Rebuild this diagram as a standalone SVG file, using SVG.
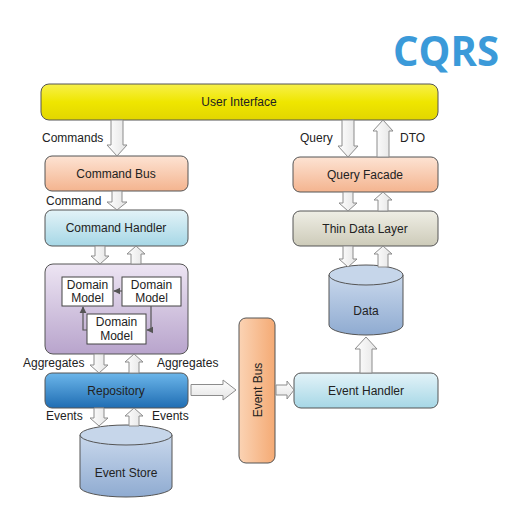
<svg xmlns="http://www.w3.org/2000/svg" width="519" height="514" viewBox="0 0 519 514">
<defs>
<linearGradient id="gYel" x1="0" y1="0" x2="0" y2="1"><stop offset="0" stop-color="#f7f04a"/><stop offset="0.5" stop-color="#efe600"/><stop offset="1" stop-color="#e2d600"/></linearGradient>
<linearGradient id="gPeach" x1="0" y1="0" x2="0" y2="1"><stop offset="0" stop-color="#fde3d3"/><stop offset="1" stop-color="#f4b48f"/></linearGradient>
<linearGradient id="gBus" x1="0" y1="0" x2="1" y2="0"><stop offset="0" stop-color="#fbd3b4"/><stop offset="1" stop-color="#f4aa74"/></linearGradient>
<linearGradient id="gCyan" x1="0" y1="0" x2="0" y2="1"><stop offset="0" stop-color="#e3f3f8"/><stop offset="1" stop-color="#a6d7e6"/></linearGradient>
<linearGradient id="gGray" x1="0" y1="0" x2="0" y2="1"><stop offset="0" stop-color="#efeee5"/><stop offset="1" stop-color="#cdcbb9"/></linearGradient>
<linearGradient id="gLav" x1="0" y1="0" x2="0" y2="1"><stop offset="0" stop-color="#ede5f3"/><stop offset="1" stop-color="#b8a4cc"/></linearGradient>
<linearGradient id="gRepo" x1="0" y1="0" x2="0" y2="1"><stop offset="0" stop-color="#6cb6ea"/><stop offset="1" stop-color="#1f6db3"/></linearGradient>
<linearGradient id="gCyl" x1="0" y1="0" x2="0" y2="1"><stop offset="0" stop-color="#c9d8ec"/><stop offset="1" stop-color="#8fabd1"/></linearGradient>
<linearGradient id="gArr" x1="0" y1="0" x2="1" y2="0"><stop offset="0" stop-color="#ffffff"/><stop offset="1" stop-color="#e4e4e4"/></linearGradient>
<linearGradient id="gArrH" x1="0" y1="0" x2="0" y2="1"><stop offset="0" stop-color="#ffffff"/><stop offset="1" stop-color="#e4e4e4"/></linearGradient>
<marker id="tri" viewBox="0 0 10 10" refX="9" refY="5" markerWidth="6" markerHeight="6" orient="auto"><path d="M0,0 L10,5 L0,10 Z" fill="#555"/></marker>
</defs>
<style>
.box{stroke:#555;stroke-width:1}
.t{font-family:"Liberation Sans",Arial,sans-serif;font-size:12px;fill:#222;text-anchor:middle}
.lbl{font-family:"Liberation Sans",Arial,sans-serif;font-size:12px;fill:#222}
.arr{fill:url(#gArr);stroke:#8c8c8c;stroke-width:1}
.arrh{fill:url(#gArrH);stroke:#8c8c8c;stroke-width:1}
.dm{fill:#fff;stroke:#444;stroke-width:1}
.ln{fill:none;stroke:#555;stroke-width:1.2}
</style>
<rect width="519" height="514" fill="#fff"/>
<text x="446" y="66" text-anchor="middle" font-family="'Open Sans','Liberation Sans',sans-serif" font-weight="bold" font-size="41" fill="#3b9ad9" textLength="106" lengthAdjust="spacingAndGlyphs">CQRS</text>

<g id="userInterface"><rect class="box" x="41" y="84" width="397" height="36" rx="8" fill="url(#gYel)"/><text class="t" x="239" y="106">User Interface</text></g>
<g id="commandBus"><rect class="box" x="45" y="156" width="143" height="35" rx="7" fill="url(#gPeach)"/><text class="t" x="116" y="178">Command Bus</text></g>
<g id="commandHandler"><rect class="box" x="45" y="210" width="143" height="36" rx="7" fill="url(#gCyan)"/><text class="t" x="116" y="232">Command Handler</text></g>
<g id="domain"><rect class="box" x="45" y="264" width="143" height="90" rx="8" fill="url(#gLav)"/>
<rect class="dm" x="62" y="277" width="51" height="29"/><text class="t" x="87.5" y="289">Domain</text><text class="t" x="87.5" y="302">Model</text>
<rect class="dm" x="122" y="277" width="59" height="29"/><text class="t" x="151.5" y="289">Domain</text><text class="t" x="151.5" y="302">Model</text>
<rect class="dm" x="87" y="314" width="59" height="30"/><text class="t" x="116.5" y="326">Domain</text><text class="t" x="116.5" y="340">Model</text>
</g>
<g id="repository"><rect class="box" x="45" y="373" width="143" height="35" rx="7" fill="url(#gRepo)"/><text class="t" x="116" y="395" fill="#1a2a48">Repository</text></g>
<g id="eventStore"><path class="box" d="M80,435 L80,487 A46,10 0 0 0 172,487 L172,435 Z" fill="url(#gCyl)"/><ellipse class="box" cx="126" cy="435" rx="46" ry="10" fill="#c6d6ea"/><text class="t" x="126" y="477">Event Store</text></g>
<g id="eventBus"><rect class="box" x="239" y="318" width="36" height="145" rx="7" fill="url(#gBus)"/><text class="t" transform="translate(261.5,390) rotate(-90)">Event Bus</text></g>
<g id="eventHandler"><rect class="box" x="294" y="373" width="144" height="35" rx="7" fill="url(#gCyan)"/><text class="t" x="366" y="395">Event Handler</text></g>
<g id="queryFacade"><rect class="box" x="293" y="157" width="145" height="35" rx="7" fill="url(#gPeach)"/><text class="t" x="365" y="179">Query Facade</text></g>
<g id="thinDataLayer"><rect class="box" x="293" y="211" width="145" height="35" rx="7" fill="url(#gGray)"/><text class="t" x="365" y="233">Thin Data Layer</text></g>
<g id="data"><path class="box" d="M329,275 L329,325 A37,10 0 0 0 403,325 L403,275 Z" fill="url(#gCyl)"/><ellipse class="box" cx="366" cy="275" rx="37" ry="10" fill="#c6d6ea"/><text class="t" x="366" y="315">Data</text></g>

<g id="connectors">
<path class="arr" d="M111,120 L123,120 L123,145 L127,145 L117,156 L107,145 L111,145 Z"/>
<path class="arr" d="M112,191 L122,191 L122,202 L127,202 L117,210 L107,202 L112,202 Z"/>
<path class="arr" d="M95,246 L105,246 L105,256 L109,256 L100,264 L91,256 L95,256 Z"/>
<path class="arr" d="M131,264 L141,264 L141,254 L145,254 L136,246 L127,254 L131,254 Z"/>
<path class="arr" d="M94,354 L104,354 L104,365 L108,365 L99,373 L90,365 L94,365 Z"/>
<path class="arr" d="M129,373 L139,373 L139,362 L143,362 L134,354 L125,362 L129,362 Z"/>
<path class="arr" d="M94,408 L104,408 L104,418 L108,418 L99,426 L90,418 L94,418 Z"/>
<path class="arr" d="M129,426 L139,426 L139,416 L143,416 L134,408 L125,416 L129,416 Z"/>
<path class="arr" d="M342,120 L354,120 L354,146 L358,146 L348,157 L338,146 L342,146 Z"/>
<path class="arr" d="M377,157 L389,157 L389,131 L393,131 L383,120 L373,131 L377,131 Z"/>
<path class="arr" d="M343,192 L353,192 L353,203 L357,203 L348,211 L339,203 L343,203 Z"/>
<path class="arr" d="M378,211 L388,211 L388,200 L392,200 L383,192 L374,200 L378,200 Z"/>
<path class="arr" d="M343,246 L353,246 L353,259 L357,259 L348,267 L339,259 L343,259 Z"/>
<path class="arr" d="M378,267 L388,267 L388,254 L392,254 L383,246 L374,254 L378,254 Z"/>
<path class="arr" d="M360,373 L372,373 L372,349 L377,349 L366,337 L355,349 L360,349 Z"/>
<path class="arrh" d="M191,384.5 L223,384.5 L223,380 L236,390 L223,400 L223,395.5 L191,395.5 Z"/>
<path class="arrh" d="M276,385 L287,385 L287,381 L294,390 L287,399 L287,395 L276,395 Z"/>
<path class="ln" d="M122,291 L114,291" marker-end="url(#tri)"/>
<path class="ln" d="M151,306 L151,330 L147,330" marker-end="url(#tri)"/>
<path class="ln" d="M87,330 L83,330 L83,307" marker-end="url(#tri)"/>
</g>

<g id="labels">
<text class="lbl" x="42" y="142">Commands</text>
<text class="lbl" x="46" y="205">Command</text>
<text class="lbl" x="23" y="367">Aggregates</text>
<text class="lbl" x="157" y="367">Aggregates</text>
<text class="lbl" x="46" y="420">Events</text>
<text class="lbl" x="152" y="420">Events</text>
<text class="lbl" x="300" y="142">Query</text>
<text class="lbl" x="400" y="142">DTO</text>
</g>
</svg>
